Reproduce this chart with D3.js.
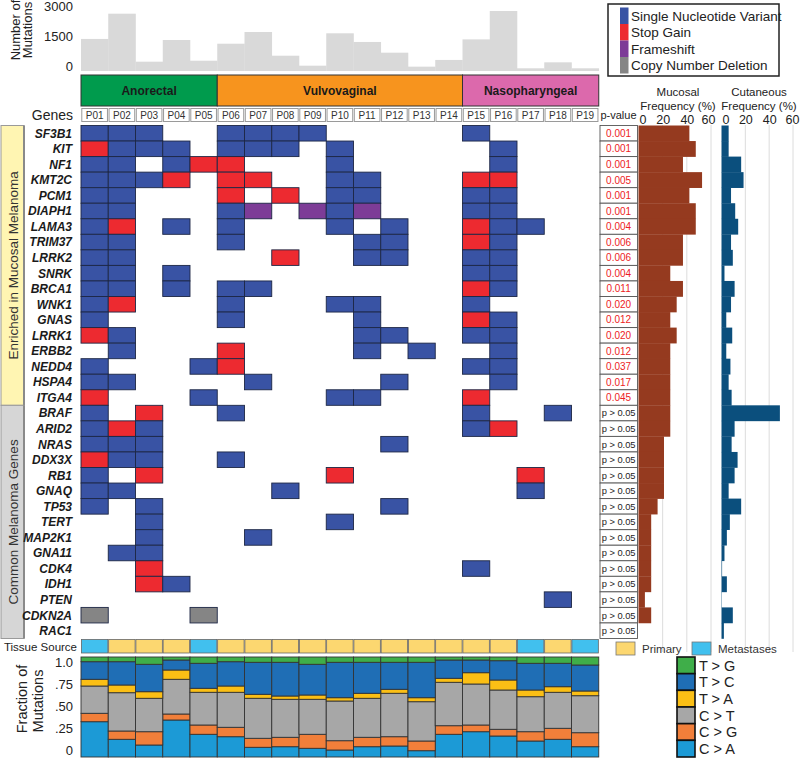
<!DOCTYPE html>
<html><head><meta charset="utf-8">
<script src="https://cdn.jsdelivr.net/npm/d3@7"></script>
<style>body{margin:0;background:#fff} text{font-family:"Liberation Sans",Arial,sans-serif}</style>
</head><body><svg id="c" width="800" height="758"></svg>
<script>
// ---------------- DATA ----------------
const patients = ["P01","P02","P03","P04","P05","P06","P07","P08","P09","P10","P11","P12","P13","P14","P15","P16","P17","P18","P19"];
const mutationCounts = [1480,2645,430,1430,475,1260,1800,706,245,1740,1340,845,200,510,1460,2770,125,400,125];
const mutationTicks = [0,1500,3000];
const siteNames = ["Anorectal","Vulvovaginal","Nasopharyngeal"];
const siteFirst = ["P01","P06","P15"];
const siteLast = ["P05","P14","P19"];
const siteColors = ["#009b4d","#f7941e","#dc69ac"];
const genes = ["SF3B1","KIT","NF1","KMT2C","PCM1","DIAPH1","LAMA3","TRIM37","LRRK2","SNRK","BRCA1","WNK1","GNAS","LRRK1","ERBB2","NEDD4","HSPA4","ITGA4",
  "BRAF","ARID2","NRAS","DDX3X","RB1","GNAQ","TP53","TERT","MAP2K1","GNA11","CDK4","IDH1","PTEN","CDKN2A","RAC1"];
const groupNames = ["Enriched in Mucosal Melanoma","Common Melanoma Genes"];
const groupFirst = ["SF3B1","BRAF"];
const groupLast = ["ITGA4","RAC1"];
// S = single nucleotide variant, R = stop gain, F = frameshift, C = copy number deletion
const mutations = [
  "SSS..SSSS.....S....",
  "RSSS.SSS.S.....S...",
  "SS.SRR...S.....S...",
  "SSSR.RR..SS...RR...",
  "SS...R.R.SS...SS...",
  "SS...SF.FSF...SS...",
  "SR.S.S...S.S..RSS..",
  "SS...S....SS..RS...",
  "SS.....R..SS..SS...",
  "SS.S..........SS...",
  "SS.S.SS.......RS...",
  "SR...S...SS...S....",
  "S....S....S...RS...",
  "RS........SS..SS...",
  ".S...R....S.S..S...",
  "S...SR........SS...",
  "SS....S....S...S...",
  "R...S....SS...R....",
  "S.R..S........S..S.",
  "SRS...........SR...",
  "SSS........S.......",
  "RSS..S.............",
  "S.R......R......R..",
  "SS.....S........S..",
  "S.S........S.......",
  "..S......S.........",
  "..S...S............",
  ".SS................",
  "..R...........S....",
  "..RS...............",
  ".................S.",
  "C...C..............",
  "..................."
];
const pValues = ["0.001","0.001","0.001","0.005","0.001","0.001","0.004","0.006","0.006","0.004","0.011","0.020","0.012","0.020","0.012","0.037","0.017","0.045",
  "p > 0.05","p > 0.05","p > 0.05","p > 0.05","p > 0.05","p > 0.05","p > 0.05","p > 0.05","p > 0.05","p > 0.05","p > 0.05","p > 0.05","p > 0.05","p > 0.05","p > 0.05"];
const mucosalFreq = [42.1,47.4,36.8,52.6,42.1,47.4,47.4,36.8,36.8,26.3,36.8,31.6,26.3,31.6,26.3,26.3,26.3,26.3,
  26.3,26.3,21.1,21.1,21.1,21.1,15.8,10.5,10.5,10.5,10.5,10.5,5.3,10.5,0];
const cutaneousFreq = [6,6,16.5,18.5,8,11.5,14,8,9.5,2.5,11,8,4,9,4,7.5,6,8.5,
  49,11,8.5,13.5,11,6,16.5,7,4.5,2.5,0.5,4.5,0.3,9.5,2];
const freqTicks = [0,20,40,60];
const tissueSource = ["Metastases","Primary","Primary","Primary","Metastases","Primary","Primary","Primary","Primary","Primary","Primary","Primary","Primary","Primary","Primary","Primary","Metastases","Primary","Metastases"];
const spectrumClasses = ["C > A","C > G","C > T","T > A","T > C","T > G"];
const fracCA = [.353,.177,.12,.37,.227,.203,.097,.103,.087,.07,.103,.11,.063,.227,.253,.21,.16,.177,.103];
const fracCG = [.084,.083,.133,.06,.093,.094,.09,.094,.14,.093,.094,.093,.097,.086,.067,.067,.093,.11,.14];
const fracCT = [.273,.383,.334,.347,.327,.35,.40,.38,.35,.397,.39,.434,.393,.434,.41,.393,.35,.36,.37];
const fracTA = [.067,.077,.066,.093,.04,.063,.04,.033,.043,.033,.05,.04,.04,.04,.113,.10,.067,.056,.047];
const fracTC = [.176,.233,.274,.10,.25,.243,.32,.337,.307,.354,.31,.27,.354,.183,.127,.193,.267,.234,.26];
const fracTG = [.047,.047,.073,.03,.063,.047,.053,.053,.073,.053,.053,.053,.053,.03,.03,.037,.063,.063,.08];
const fracTicks = [0,.25,.5,.75,1];
const fracTickLabels = ["0",".25",".50",".75","1.0"];

// ---------------- STYLE ----------------
const mutTypes = ["Single Nucleotide Variant","Stop Gain","Frameshift","Copy Number Deletion"];
const mutCodes = ["S","R","F","C"];
const mutColors = ["#3953a4","#ed2a30","#7d3c97","#858585"];
const tissueColors = {Primary:"#fcd770", Metastases:"#41c0ee"};
const specColors = ["#1c9ad6","#f17f3a","#a7a7a7","#fbbf15","#1f6eb5","#3fae49"];

const svg = d3.select("#c");
const x = d3.scaleBand().domain(patients).range([81, 598.75]);
const y = d3.scaleBand().domain(genes).range([125.5, 638.5]);
const bw = x.bandwidth(), bh = y.bandwidth();

// ---- top bar chart ----
const yTop = d3.scaleLinear().domain([0,3000]).range([71,6]);
svg.append("g").selectAll("rect").data(patients).join("rect")
  .attr("x", d=>x(d)).attr("width", bw+0.3)
  .attr("y", (d,i)=>yTop(mutationCounts[i])).attr("height",(d,i)=>yTop(0)-yTop(mutationCounts[i]))
  .attr("fill","#d9d9d9");
const yTopLab = d3.scaleLinear().domain([0,3000]).range([66,6]);
const gTop = svg.append("g").attr("transform","translate(75,0)")
  .call(d3.axisLeft(yTopLab).tickValues(mutationTicks).tickFormat(d3.format("d")).tickSize(0).tickPadding(2));
gTop.select(".domain").remove();
gTop.selectAll("text").style("font-size","13px").style("fill","#222");
svg.append("text").attr("transform","translate(20,30) rotate(-90)").attr("text-anchor","middle")
  .style("font-size","13px").style("fill","#222").text("Number of");
svg.append("text").attr("transform","translate(32,30) rotate(-90)").attr("text-anchor","middle")
  .style("font-size","13px").style("fill","#222").text("Mutations");

// ---- site header ----
siteNames.forEach((s,i)=>{
  const x0 = x(siteFirst[i]), x1 = x(siteLast[i])+bw;
  svg.append("rect").attr("x",x0).attr("y",75).attr("width",x1-x0).attr("height",31)
    .attr("fill",siteColors[i]).attr("stroke","#333").attr("stroke-width",1);
  svg.append("text").attr("x",(x0+x1)/2).attr("y",95).attr("text-anchor","middle")
    .style("font-family","'Liberation Sans Narrow','Arial Narrow','Liberation Sans',Arial").style("font-weight","bold")
    .style("font-size","12px").style("font-stretch","condensed").style("fill","#1a1a1a").text(s);
});

// ---- patient labels ----
svg.append("g").selectAll("rect").data(patients).join("rect")
  .attr("x",d=>x(d)+0.8).attr("y",108.5).attr("width",bw-1.6).attr("height",13)
  .attr("fill","#fff").attr("stroke","#9a9a9a").attr("stroke-width",1);
svg.append("g").selectAll("text").data(patients).join("text")
  .attr("x",d=>x(d)+bw/2).attr("y",119).attr("text-anchor","middle").style("font-size","10px").style("fill","#333").text(d=>d);
svg.append("text").attr("x",73).attr("y",120).attr("text-anchor","end").style("font-size","14px").style("fill","#222").text("Genes");
svg.append("text").attr("x",618.5).attr("y",119).attr("text-anchor","middle").style("font-size","11px").style("fill","#222").text("p-value");

// ---- group boxes ----
const groupFills = ["#fff5b2","#d6d6d6"];
groupNames.forEach((g,i)=>{
  const y0 = y(groupFirst[i]), y1 = y(groupLast[i])+bh;
  svg.append("rect").attr("x",1).attr("y",y0).attr("width",23).attr("height",y1-y0)
    .attr("fill",groupFills[i]).attr("stroke","#9a9a9a").attr("stroke-width",1);
  svg.append("line").attr("x1",24).attr("x2",24).attr("y1",y0).attr("y2",y1).attr("stroke","#8a8a8a").attr("stroke-width",2);
  svg.append("text").attr("transform",`translate(18,${(y0+y1)/2}) rotate(-90)`).attr("text-anchor","middle")
    .style("font-size","13.5px").style("fill","#333").text(g);
});

// ---- gene labels ----
svg.append("g").selectAll("text").data(genes).join("text")
  .attr("x",72).attr("y",d=>y(d)+bh/2).attr("dy","0.36em").attr("text-anchor","end")
  .style("font-size","12px").style("font-weight","bold").style("font-style","italic").style("fill","#1a1a1a").text(d=>d);

// ---- mutation matrix ----
const cells = [];
genes.forEach((g,i)=>{
  const row = mutations[i].padEnd(19,".");
  patients.forEach((p,j)=>{ const c=row[j]; if(c!==".") cells.push({g,p,c}); });
});
svg.append("g").selectAll("rect").data(cells).join("rect")
  .attr("x",d=>x(d.p)).attr("y",d=>y(d.g)).attr("width",bw).attr("height",bh)
  .attr("fill",d=>mutColors[mutCodes.indexOf(d.c)]).attr("stroke","#1d2745").attr("stroke-width",0.9);

// ---- p-values ----
const gp = svg.append("g");
gp.selectAll("rect").data(genes).join("rect")
  .attr("x",600).attr("y",d=>y(d)).attr("width",37.5).attr("height",bh)
  .attr("fill","#fff").attr("stroke","#555").attr("stroke-width",0.9);
gp.selectAll("text").data(genes).join("text")
  .attr("x",618.6).attr("y",d=>y(d)+bh/2).attr("dy","0.36em").attr("text-anchor","middle")
  .style("font-size",(d,i)=>pValues[i].startsWith("p")?"9.3px":"10px")
  .style("fill",(d,i)=>pValues[i].startsWith("p")?"#222":"#ed1c24").text((d,i)=>pValues[i]);

// ---- frequency panels ----
function freqPanel(scale, vals, color, title, cx, shift60){
  const g = svg.append("g");
  g.selectAll("line").data(freqTicks.slice(1)).join("line")
    .attr("x1",d=>scale(d)).attr("x2",d=>scale(d)).attr("y1",125).attr("y2",652)
    .attr("stroke","#dcdcdc").attr("stroke-width",1);
  g.append("g").selectAll("rect").data(genes).join("rect")
    .attr("x",scale(0)).attr("y",d=>y(d)).attr("height",bh+0.3)
    .attr("width",(d,i)=>scale(vals[i])-scale(0)).attr("fill",color);
  const ax = g.append("g").attr("transform","translate(0,124)")
    .call(d3.axisTop(scale).tickValues(freqTicks).tickSize(0).tickPadding(0));
  ax.select(".domain").remove();
  ax.selectAll("text").style("font-size","12.5px").style("fill","#222")
    .attr("dx",d=>d===0?4:(d===60?shift60:0));
  g.append("text").attr("x",cx).attr("y",96).attr("text-anchor","middle").style("font-size","11.5px").style("fill","#222").text(title);
  g.append("text").attr("x",cx).attr("y",110).attr("text-anchor","middle").style("font-size","11.5px").style("fill","#222").text("Frequency (%)");
}
const xMuc = d3.scaleLinear().domain([0,60]).range([638.5,711]);
const xCut = d3.scaleLinear().domain([0,60]).range([721.5,793]);
freqPanel(xMuc, mucosalFreq, "#953a1f", "Mucosal", 678, -3);
freqPanel(xCut, cutaneousFreq, "#0b4f7d", "Cutaneous", 759, -1);

// ---- tissue source ----
svg.append("g").selectAll("rect").data(patients).join("rect")
  .attr("x",d=>x(d)+0.4).attr("y",639.5).attr("width",bw-0.8).attr("height",13.5)
  .attr("fill",(d,i)=>tissueColors[tissueSource[i]]).attr("stroke","#666").attr("stroke-width",0.8);
svg.append("text").attr("x",77).attr("y",650.5).attr("text-anchor","end").style("font-size","11.5px").style("fill","#222").text("Tissue Source");
const tl = [{k:"Primary",sx:616,tx:642},{k:"Metastases",sx:692,tx:718}];
tl.forEach(t=>{
  svg.append("rect").attr("x",t.sx).attr("y",642).attr("width",19).attr("height",13)
    .attr("fill",tissueColors[t.k]).attr("stroke","#777").attr("stroke-width",0.8);
  svg.append("text").attr("x",t.tx).attr("y",652.5).style("font-size","11.5px").style("fill","#333").text(t.k);
});

// ---- mutation spectrum stacked bars ----
const specRows = patients.map((p,i)=>({p, "C > A":fracCA[i],"C > G":fracCG[i],"C > T":fracCT[i],"T > A":fracTA[i],"T > C":fracTC[i],"T > G":fracTG[i]}));
const stack = d3.stack().keys(spectrumClasses)(specRows);
const yF = d3.scaleLinear().domain([0,1]).range([757,657]);
svg.append("g").selectAll("g").data(stack).join("g").attr("fill",(d,i)=>specColors[i])
  .selectAll("rect").data(d=>d).join("rect")
  .attr("x",d=>x(d.data.p)).attr("width",bw).attr("y",d=>yF(d[1])).attr("height",d=>yF(d[0])-yF(d[1]))
  .attr("stroke","#333").attr("stroke-width",0.9);
const yFL = d3.scaleLinear().domain([0,1]).range([750,662]);
const gF = svg.append("g").attr("transform","translate(73,0)")
  .call(d3.axisLeft(yFL).tickValues(fracTicks).tickFormat((d,i)=>fracTickLabels[i]).tickSize(0).tickPadding(0));
gF.select(".domain").remove();
gF.selectAll("text").style("font-size","13px").style("fill","#222");
svg.append("text").attr("transform","translate(27,699) rotate(-90)").attr("text-anchor","middle").style("font-size","14.5px").style("fill","#222").text("Fraction of");
svg.append("text").attr("transform","translate(43,701) rotate(-90)").attr("text-anchor","middle").style("font-size","14.5px").style("fill","#222").text("Mutations");

// ---- spectrum legend ----
const legOrder = spectrumClasses.slice().reverse();
const ls = d3.scaleBand().domain(legOrder).range([657,757]);
svg.append("g").selectAll("rect").data(legOrder).join("rect")
  .attr("x",677).attr("y",d=>ls(d)).attr("width",18).attr("height",ls.bandwidth())
  .attr("fill",d=>specColors[spectrumClasses.indexOf(d)]).attr("stroke","#111").attr("stroke-width",1.6);
svg.append("g").selectAll("text").data(legOrder).join("text")
  .attr("x",699).attr("y",d=>ls(d)+ls.bandwidth()/2).attr("dy","0.36em").style("font-size","14.5px").style("fill","#222").text(d=>d);

// ---- mutation type legend ----
svg.append("rect").attr("x",608).attr("y",4).attr("width",171).attr("height",72)
  .attr("fill","#fff").attr("stroke","#222").attr("stroke-width",1.5);
const ml = d3.scaleBand().domain(mutTypes).range([7.5,73.5]);
svg.append("g").selectAll("rect").data(mutTypes).join("rect")
  .attr("x",620).attr("y",d=>ml(d)).attr("width",8.5).attr("height",ml.bandwidth())
  .attr("fill",(d,i)=>mutColors[i]);
svg.append("g").selectAll("text").data(mutTypes).join("text")
  .attr("x",631).attr("y",d=>ml(d)+ml.bandwidth()/2).attr("dy","0.36em").style("font-size","13.5px").style("fill","#222").text(d=>d);
</script></body></html>
